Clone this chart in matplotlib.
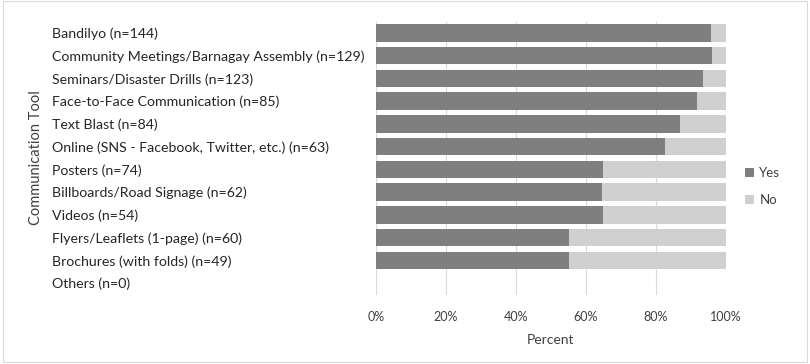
import matplotlib
matplotlib.use("Agg")
import matplotlib.pyplot as plt
import numpy as np
from matplotlib.patches import Rectangle
from matplotlib.ticker import PercentFormatter

categories = [
    "Bandilyo (n=144)",
    "Community Meetings/Barnagay Assembly (n=129)",
    "Seminars/Disaster Drills (n=123)",
    "Face-to-Face Communication (n=85)",
    "Text Blast (n=84)",
    "Online (SNS - Facebook, Twitter, etc.) (n=63)",
    "Posters (n=74)",
    "Billboards/Road Signage (n=62)",
    "Videos (n=54)",
    "Flyers/Leaflets (1-page) (n=60)",
    "Brochures (with folds) (n=49)",
    "Others (n=0)",
]
yes_pct = [95.8, 96.1, 93.5, 91.8, 86.9, 82.5, 64.9, 64.5, 64.8, 55.0, 55.1, 0.0]
no_pct = [4.2, 3.9, 6.5, 8.2, 13.1, 17.5, 35.1, 35.5, 35.2, 45.0, 44.9, 0.0]
x_ticks = [0, 20, 40, 60, 80, 100]

DARK = "#7f7f7f"
LIGHT = "#d0d0d0"
TEXT = "#404040"

plt.rcParams["font.family"] = ["Lato", "DejaVu Sans"]

fig = plt.figure(figsize=(8.1, 3.64), dpi=100)
ax = fig.add_axes([376 / 810, 1 - 294.5 / 364, 350 / 810, 273 / 364])

y = np.arange(len(categories))
ax.barh(y, yes_pct, height=0.76, color=DARK, label="Yes", zorder=2)
ax.barh(y, no_pct, left=yes_pct, height=0.76, color=LIGHT, label="No", zorder=2)

ax.set_xlim(0, 100)
ax.set_ylim(len(categories) - 0.5, -0.5)
ax.set_xticks(x_ticks)
ax.xaxis.set_major_formatter(PercentFormatter(decimals=0))
ax.grid(axis="x", color="#bdbdbd", lw=0.8, alpha=0.55, zorder=3)
for s in ax.spines.values():
    s.set_visible(False)

ax.set_yticks(y)
ax.set_yticklabels(categories, fontsize=10.2, color="#262626", ha="left")
ax.tick_params(axis="y", length=0, pad=233)
ax.tick_params(axis="x", length=0, pad=12, labelsize=9, labelcolor=TEXT)

ax.set_xlabel("Percent", fontsize=10, color=TEXT, labelpad=8)
fig.text(36 / 810, 1 - 158 / 364, "Communication Tool", rotation=90,
         ha="center", va="center", fontsize=10.5, color=TEXT)

ax.legend(loc="center left", bbox_to_anchor=(1.02, 0.395), frameon=False,
          fontsize=9.5, handlelength=0.7, handleheight=0.7, handletextpad=0.4,
          labelcolor="#404040", labelspacing=1.1)

fig.patches.append(Rectangle((0.004, 0.006), 0.992, 0.99, transform=fig.transFigure,
                             fill=False, edgecolor="#d9d9d9", lw=0.8))

fig.savefig("out.png", dpi=100)
